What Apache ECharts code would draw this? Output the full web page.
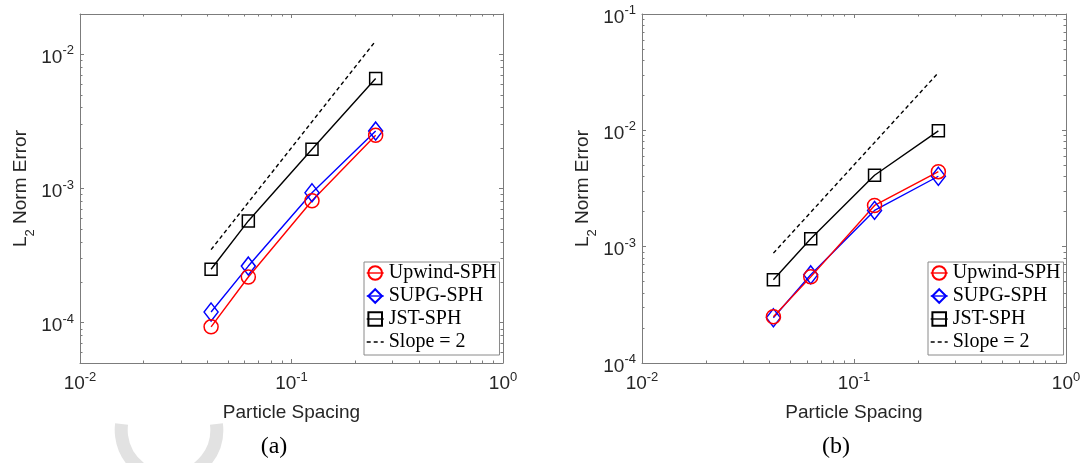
<!DOCTYPE html>
<html><head><meta charset="utf-8">
<script src="https://cdn.jsdelivr.net/npm/echarts@6/dist/echarts.min.js"></script>
<style>html,body{margin:0;padding:0;background:#fff}#c{width:1085px;height:463px}</style>
</head><body><div id="c"></div>
<script>
// ---- data ----
const spacing = [1/24, 1/16, 1/8, 1/4];
const upwindA = [9.3e-5, 2.19e-4, 8.1e-4, 2.49e-3];
const supgA   = [1.2e-4, 2.64e-4, 9.3e-4, 2.68e-3];
const jstA    = [2.5e-4, 5.73e-4, 1.96e-3, 6.6e-3];
const slopeX  = [1/24, 1/4];
const slopeA  = [3.5e-4, 1.26e-2];
const upwindB = [2.5e-4, 5.5e-4, 2.26e-3, 4.41e-3];
const supgB   = [2.45e-4, 5.73e-4, 2.05e-3, 4.03e-3];
const jstB    = [5.19e-4, 1.17e-3, 4.11e-3, 9.9e-3];
const slopeB  = [8.8e-4, 3.13e-2];
const xTicks  = [0.01, 0.1, 1];
const yTicksA = [1e-4, 1e-3, 1e-2];
const yTicksB = [1e-4, 1e-3, 1e-2, 1e-1];
const xRange  = [0.0099999, 1.00001];
const yRangeA = [5e-5, 2e-2];
const yRangeB = [0.99999e-4, 0.100001];
const names = ['Upwind-SPH', 'SUPG-SPH', 'JST-SPH', 'Slope = 2'];
const captions = ['(a)', '(b)'];

// ---- helpers ----
const AX = '#7c7c7c';
const TXT = '#262626';
function minorTicks(r) {
  const out = [];
  for (let d = Math.floor(Math.log10(r[0])); d < Math.ceil(Math.log10(r[1])); d++)
    for (let k = 2; k <= 9; k++) { const v = k * Math.pow(10, d); if (v >= r[0] && v <= r[1]) out.push(v); }
  return out;
}
const fmt = v => '{b|10}{s|' + Math.round(Math.log10(v)) + '}';
const rich = {
  b: {fontSize: 19, lineHeight: 19, fontFamily: 'Liberation Sans', color: TXT, padding: [7, 0, 0, 0]},
  s: {fontSize: 13, lineHeight: 13, fontFamily: 'Liberation Sans', color: TXT, padding: [3, 0, 10, 0]}
};
function axBase(g, r) {
  return {type: 'log', logBase: 10, gridIndex: g, min: r[0], max: r[1], silent: true,
    splitLine: {show: false}, axisLine: {show: false, onZero: false},
    axisLabel: {show: false}, axisTick: {show: false}, axisPointer: {show: false}};
}
function majorTick(vals) { return {show: true, inside: true, length: 4, lineStyle: {color: AX, width: 1}, customValues: vals}; }
function minorTick(r) { return {show: true, inside: true, length: 2.5, lineStyle: {color: AX, width: 1}, customValues: minorTicks(r)}; }
const lineOn = {show: true, onZero: false, lineStyle: {color: AX, width: 1}};

function xAxes(g) {
  return [
    Object.assign(axBase(g, xRange), {position: 'bottom', axisLine: lineOn, axisTick: majorTick(xTicks),
      axisLabel: {show: true, customValues: xTicks, formatter: fmt, rich: rich, margin: 8},
      name: 'Particle Spacing', nameLocation: 'middle', nameGap: 40,
      nameTextStyle: {fontFamily: 'Liberation Sans', fontSize: 19, color: TXT}}),
    Object.assign(axBase(g, xRange), {position: 'bottom', axisTick: minorTick(xRange)}),
    Object.assign(axBase(g, xRange), {position: 'top', axisLine: lineOn, axisTick: majorTick(xTicks)}),
    Object.assign(axBase(g, xRange), {position: 'top', axisTick: minorTick(xRange)})
  ];
}
function yAxes(g, r, ticks) {
  return [
    Object.assign(axBase(g, r), {position: 'left', axisLine: lineOn, axisTick: majorTick(ticks),
      axisLabel: {show: true, customValues: ticks, formatter: fmt, rich: rich, margin: 6},
      name: '{n|L}{u|2}{n| Norm Error}', nameLocation: 'middle', nameGap: 44,
      nameTextStyle: {rich: {
        n: {fontFamily: 'Liberation Sans', fontSize: 19, lineHeight: 19, color: TXT},
        u: {fontFamily: 'Liberation Sans', fontSize: 13, lineHeight: 13, color: TXT, padding: [20, 0, 0, 0]}
      }}}),
    Object.assign(axBase(g, r), {position: 'left', axisTick: minorTick(r)}),
    Object.assign(axBase(g, r), {position: 'right', axisLine: lineOn, axisTick: majorTick(ticks)}),
    Object.assign(axBase(g, r), {position: 'right', axisTick: minorTick(r)})
  ];
}
function mk(name, xs, ys, color, symbol, size, g, dashed) {
  return {type: 'line', name: name, xAxisIndex: g * 4, yAxisIndex: g * 4,
    data: xs.map((x, i) => [x, ys[i]]),
    symbol: dashed ? 'none' : symbol, symbolSize: size, showSymbol: !dashed,
    lineStyle: {color: color, width: 1.4, type: dashed ? [4, 3] : 'solid'},
    itemStyle: dashed ? {color: 'transparent', borderWidth: 0} : {color: 'transparent', borderColor: color, borderWidth: 1.5},
    emphasis: {disabled: true}, silent: true, clip: false, animation: false};
}
function seriesFor(g, up, su, js, sl) {
  return [
    mk(names[3], slopeX, sl, '#000', 'none', 0, g, true),
    mk(names[2], spacing, js, '#000', 'rect', 12, g),
    mk(names[1], spacing, su, '#0000ff', 'diamond', [14, 18], g),
    mk(names[0], spacing, up, '#ff0000', 'circle', 14, g)
  ];
}
function legend(left) {
  return {orient: 'vertical', left: left, top: 262, itemWidth: 17, itemHeight: 17, itemGap: 3,
    padding: [1, 3, 3, 2], borderColor: '#8a8a8a', borderWidth: 1, backgroundColor: '#fff',
    selectedMode: false, data: names, lineStyle: {width: 1.4},
    textStyle: {fontFamily: 'Liberation Serif', fontSize: 20, color: '#000'}};
}

const chart = echarts.init(document.getElementById('c'), null, {renderer: 'canvas'});
chart.setOption({
  animation: false,
  backgroundColor: '#fff',
  grid: [
    {left: 80, top: 14, width: 423, height: 349, outerBoundsMode: 'none', containLabel: false},
    {left: 642, top: 14, width: 424, height: 349, outerBoundsMode: 'none', containLabel: false}
  ],
  xAxis: xAxes(0).concat(xAxes(1)),
  yAxis: yAxes(0, yRangeA, yTicksA).concat(yAxes(1, yRangeB, yTicksB)),
  legend: [legend(364), legend(928)],
  series: seriesFor(0, upwindA, supgA, jstA, slopeA).concat(seriesFor(1, upwindB, supgB, jstB, slopeB)),
  graphic: [
    {type: 'arc', shape: {cx: 169, cy: 430, r: 47.8, startAngle: -0.126, endAngle: Math.PI + 0.126, clockwise: true},
     style: {stroke: '#e2e2e2', lineWidth: 13, fill: null}, z: 0, silent: true},
    {type: 'text', x: 274, y: 447, style: {text: captions[0], font: '24px "Liberation Serif"', fill: '#000', align: 'center', verticalAlign: 'middle'}, silent: true},
    {type: 'text', x: 836, y: 447, style: {text: captions[1], font: '24px "Liberation Serif"', fill: '#000', align: 'center', verticalAlign: 'middle'}, silent: true}
  ]
});
</script>
</body></html>
